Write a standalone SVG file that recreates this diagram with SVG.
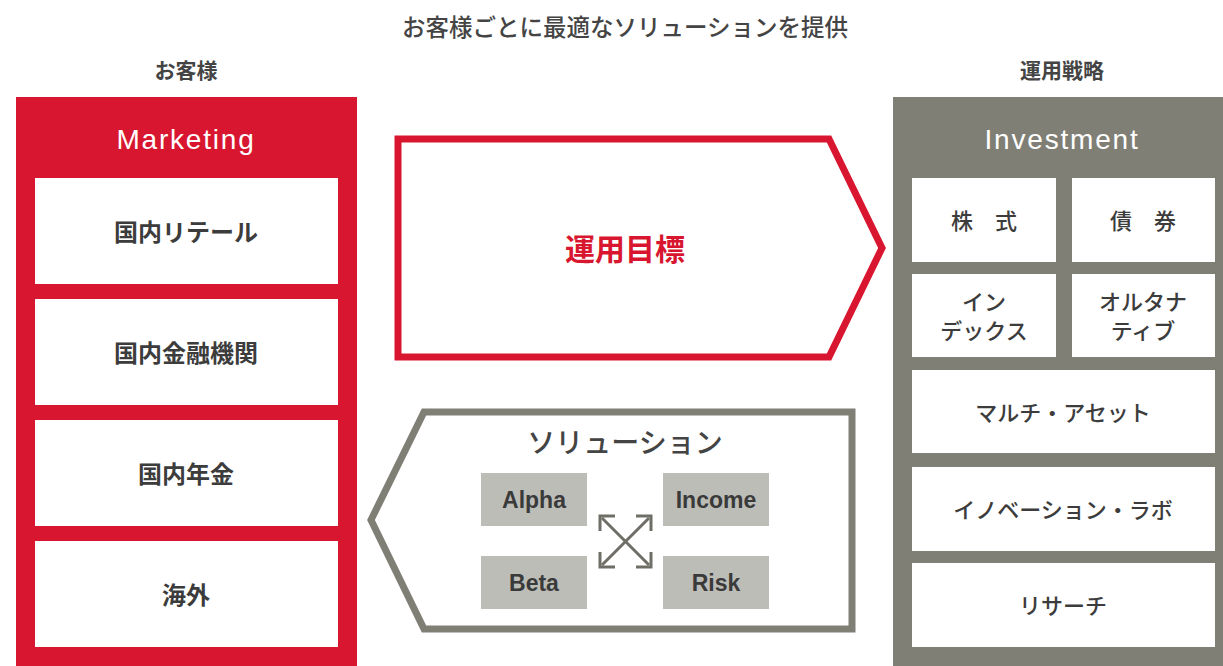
<svg xmlns="http://www.w3.org/2000/svg" width="1223" height="666" viewBox="0 0 1223 666">
<style>
.jp{font-family:"Noto Sans CJK JP","Noto Sans",sans-serif;}
.lat{font-family:"Liberation Sans",Arial,sans-serif;}
.wbox{fill:#ffffff;}
.lt{font-size:24px;font-weight:700;fill:#3c3c3c;text-anchor:middle;dominant-baseline:central;}
.rt{font-size:22px;font-weight:500;fill:#3c3c3c;text-anchor:middle;dominant-baseline:central;}
.gb{fill:#bdbdb8;}
.gt{font-size:23px;font-weight:700;fill:#3a3a3a;text-anchor:middle;dominant-baseline:central;}
.hd{font-size:28px;letter-spacing:1.8px;fill:#ffffff;text-anchor:middle;dominant-baseline:central;}
</style>
<rect width="1223" height="666" fill="#ffffff"/>
<text class="jp" x="625" y="26" font-size="23.5" font-weight="500" fill="#444444" text-anchor="middle" dominant-baseline="central">お客様ごとに最適なソリューションを提供</text>
<text class="jp" x="186" y="69" font-size="21" font-weight="700" fill="#444444" text-anchor="middle" dominant-baseline="central">お客様</text>
<text class="jp" x="1062" y="69" font-size="21" font-weight="700" fill="#444444" text-anchor="middle" dominant-baseline="central">運用戦略</text>

<g id="marketing">
<rect x="16" y="97" width="341" height="569" fill="#d9162f"/>
<text class="hd lat" x="186" y="139">Marketing</text>
</g>
<g id="m1"><rect class="wbox" x="35" y="178" width="303" height="106"/><text class="jp lt" x="186" y="230">国内リテール</text></g>
<g id="m2"><rect class="wbox" x="35" y="299" width="303" height="106"/><text class="jp lt" x="186" y="351">国内金融機関</text></g>
<g id="m3"><rect class="wbox" x="35" y="420" width="303" height="106"/><text class="jp lt" x="186" y="472">国内年金</text></g>
<g id="m4"><rect class="wbox" x="35" y="541" width="303" height="106"/><text class="jp lt" x="186" y="593">海外</text></g>

<g id="investment">
<rect x="893" y="97" width="330" height="569" fill="#807f76"/>
<text class="hd lat" x="1062" y="139">Investment</text>
</g>
<g id="i1"><rect class="wbox" x="912" y="178" width="144" height="84"/><text class="jp rt" x="984" y="219">株　式</text></g>
<g id="i2"><rect class="wbox" x="1072" y="178" width="143" height="84"/><text class="jp rt" x="1143" y="219">債　券</text></g>
<g id="i3"><rect class="wbox" x="912" y="274" width="144" height="83"/><text class="jp rt" x="984" y="300">イン</text><text class="jp rt" x="984" y="329">デックス</text></g>
<g id="i4"><rect class="wbox" x="1072" y="274" width="143" height="83"/><text class="jp rt" x="1143" y="300">オルタナ</text><text class="jp rt" x="1143" y="329">ティブ</text></g>
<g id="i5"><rect class="wbox" x="912" y="370" width="303" height="83"/><text class="jp rt" x="1063" y="411">マルチ・アセット</text></g>
<g id="i6"><rect class="wbox" x="912" y="467" width="303" height="84"/><text class="jp rt" x="1063" y="508">イノベーション・ラボ</text></g>
<g id="i7"><rect class="wbox" x="912" y="563" width="303" height="84"/><text class="jp rt" x="1063" y="604">リサーチ</text></g>

<g id="goal">
<polygon points="398,139 829,139 882,248 829,357 398,357" fill="#ffffff" stroke="#d9162f" stroke-width="7" stroke-linejoin="miter"/>
<text class="jp" x="625" y="247" font-size="30" font-weight="700" fill="#d9162f" text-anchor="middle" dominant-baseline="central">運用目標</text>
</g>

<g id="solution">
<polygon points="852,412 424,412 371,520 424,629 852,629" fill="#ffffff" stroke="#807f76" stroke-width="7" stroke-linejoin="miter"/>
<text class="jp" x="625" y="441" font-size="28" font-weight="500" fill="#444444" text-anchor="middle" dominant-baseline="central">ソリューション</text>
</g>
<g id="alpha"><rect class="gb" x="481" y="473" width="106" height="53"/><text class="lat gt" x="534" y="499.5">Alpha</text></g>
<g id="income"><rect class="gb" x="663" y="473" width="106" height="53"/><text class="lat gt" x="716" y="499.5">Income</text></g>
<g id="beta"><rect class="gb" x="481" y="556" width="106" height="53"/><text class="lat gt" x="534" y="582.5">Beta</text></g>
<g id="risk"><rect class="gb" x="663" y="556" width="106" height="53"/><text class="lat gt" x="716" y="582.5">Risk</text></g>

<g id="connectors" fill="none" stroke="#6f6e66" stroke-width="3">
<line x1="602" y1="518" x2="649" y2="565"/>
<line x1="649" y1="518" x2="602" y2="565"/>
<polyline points="600,531 600,516 615,516"/>
<polyline points="636,516 651,516 651,531"/>
<polyline points="600,552 600,567 615,567"/>
<polyline points="636,567 651,567 651,552"/>
</g>
</svg>
